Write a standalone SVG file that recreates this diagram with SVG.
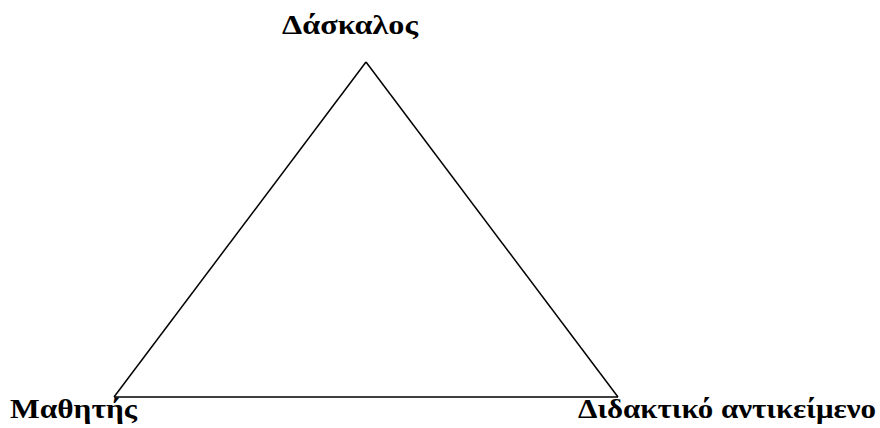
<svg xmlns="http://www.w3.org/2000/svg" width="880" height="428" viewBox="0 0 880 428">
<style>
.lbl{font-family:"Liberation Serif","DejaVu Serif",serif;font-weight:bold;font-size:28px;fill:#000}
.edge{stroke:#000;stroke-width:1.5;fill:none}
</style>
<rect width="880" height="428" fill="#fff"/>
<g id="connectors">
<line class="edge" x1="366" y1="62" x2="114" y2="397"/>
<line class="edge" x1="366" y1="62" x2="618" y2="397"/>
<line class="edge" x1="114" y1="397" x2="618" y2="397"/>
</g>
<g id="node-daskalos"><text class="lbl" x="282" y="34" textLength="136" lengthAdjust="spacingAndGlyphs">Δάσκαλος</text></g>
<g id="node-mathitis"><text class="lbl" x="10" y="418" textLength="127" lengthAdjust="spacingAndGlyphs">Μαθητής</text></g>
<g id="node-antikeimeno"><text class="lbl" x="578" y="418" textLength="298" lengthAdjust="spacingAndGlyphs">Διδακτικό αντικείμενο</text></g>
</svg>
